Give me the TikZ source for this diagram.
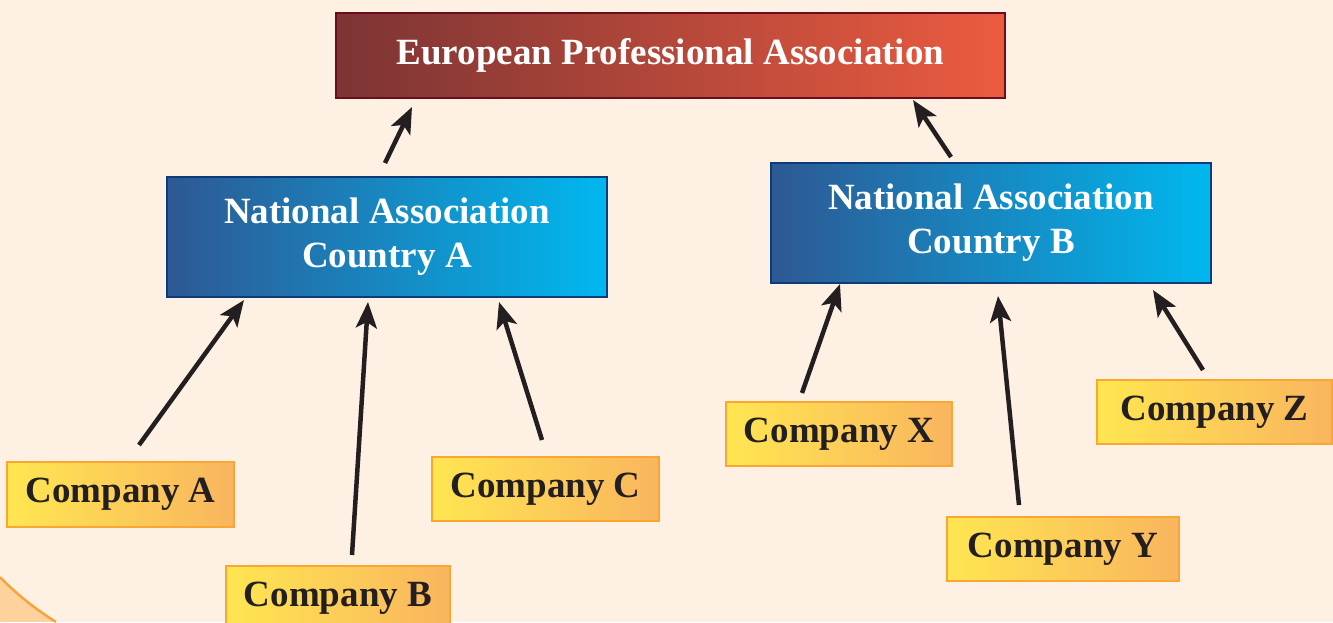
\documentclass[tikz,border=0pt]{standalone}
\usepackage{fontspec}
\setmainfont{Liberation Serif}
\usetikzlibrary{arrows.meta}

\definecolor{pagebg}{HTML}{FEF1E4}
\definecolor{cornerfill}{HTML}{FDD29C}
\definecolor{cornerline}{HTML}{F7A53A}
\definecolor{euleft}{HTML}{7C3434}
\definecolor{euright}{HTML}{EC5B40}
\definecolor{euline}{HTML}{6A0E1E}
\definecolor{natleft}{HTML}{2E5893}
\definecolor{natright}{HTML}{00B8EF}
\definecolor{natline}{HTML}{0B3C78}
\definecolor{compleft}{HTML}{FFE651}
\definecolor{compright}{HTML}{F9B55E}
\definecolor{compline}{HTML}{F9A633}
\definecolor{ink}{HTML}{231F20}

\tikzset{
  boxtext/.style={font=\fontsize{37}{44}\selectfont\bfseries, align=center, inner sep=0pt},
  eubox/.style={boxtext, rectangle, draw=euline, line width=2.5pt,
    left color=euleft, right color=euright, text=white},
  natbox/.style={boxtext, rectangle, draw=natline, line width=2.5pt,
    left color=natleft, right color=natright, text=white},
  compbox/.style={boxtext, rectangle, draw=compline, line width=2.5pt,
    left color=compleft, right color=compright, text=ink},
  link/.style={draw=ink, line width=4.5pt,
    -{Stealth[length=26pt, width=21pt, inset=6pt]}},
}

\begin{document}
\begin{tikzpicture}[x=1pt, y=-1pt]
  % page
  \fill[pagebg] (0,0) rectangle (1333,622);
  \useasboundingbox (0,0) rectangle (1333,622);

  % decorative corner sweep (part of a large circle)
  \fill[cornerfill] (0,622) -- (0,577.2)
    arc[start angle=135.5, end angle=121.8, radius=300] -- cycle;
  \draw[cornerline, line width=2.5pt] (0,577.2)
    arc[start angle=135.5, end angle=121.8, radius=300];

  % association boxes
  \node[eubox, minimum width=669pt, minimum height=85pt] (eu) at (670.5,55.5)
    {European Professional Association};
  \node[natbox, minimum width=440pt, minimum height=120pt] (nA) at (387,237)
    {National Association\\Country A};
  \node[natbox, minimum width=440pt, minimum height=120pt] (nB) at (991,223)
    {National Association\\Country B};

  % member companies
  \node[compbox, minimum width=227pt, minimum height=65pt] (cA) at (120.5,494.5) {Company A};
  \node[compbox, minimum width=224pt, minimum height=64pt] (cB) at (338,598) {Company B};
  \node[compbox, minimum width=227pt, minimum height=64pt] (cC) at (545.5,489) {Company C};
  \node[compbox, minimum width=226pt, minimum height=64pt] (cX) at (839,434) {Company X};
  \node[compbox, minimum width=232pt, minimum height=64pt] (cY) at (1063,549) {Company Y};
  \node[compbox, minimum width=235pt, minimum height=64pt] (cZ) at (1214.5,412) {Company Z};

  % arrow ends (tails near the lower box, tips near the upper box)
  \coordinate (nA-up)   at (385,163);  \coordinate (eu-inA) at (412,107);
  \coordinate (nB-up)   at (951,157);  \coordinate (eu-inB) at (913,100);
  \coordinate (cA-up)   at (139,445);  \coordinate (nA-inA) at (244,300);
  \coordinate (cB-up)   at (352,555);  \coordinate (nA-inB) at (368,302);
  \coordinate (cC-up)   at (542,440);  \coordinate (nA-inC) at (499,302);
  \coordinate (cX-up)   at (802,393);  \coordinate (nB-inX) at (840,284);
  \coordinate (cY-up)   at (1019,505); \coordinate (nB-inY) at (998,296);
  \coordinate (cZ-up)   at (1203,370); \coordinate (nB-inZ) at (1153,290);

  \draw[link] (nA-up) -- (eu-inA);
  \draw[link] (nB-up) -- (eu-inB);
  \draw[link] (cA-up) -- (nA-inA);
  \draw[link] (cB-up) -- (nA-inB);
  \draw[link] (cC-up) -- (nA-inC);
  \draw[link] (cX-up) -- (nB-inX);
  \draw[link] (cY-up) -- (nB-inY);
  \draw[link] (cZ-up) -- (nB-inZ);
\end{tikzpicture}
\end{document}
